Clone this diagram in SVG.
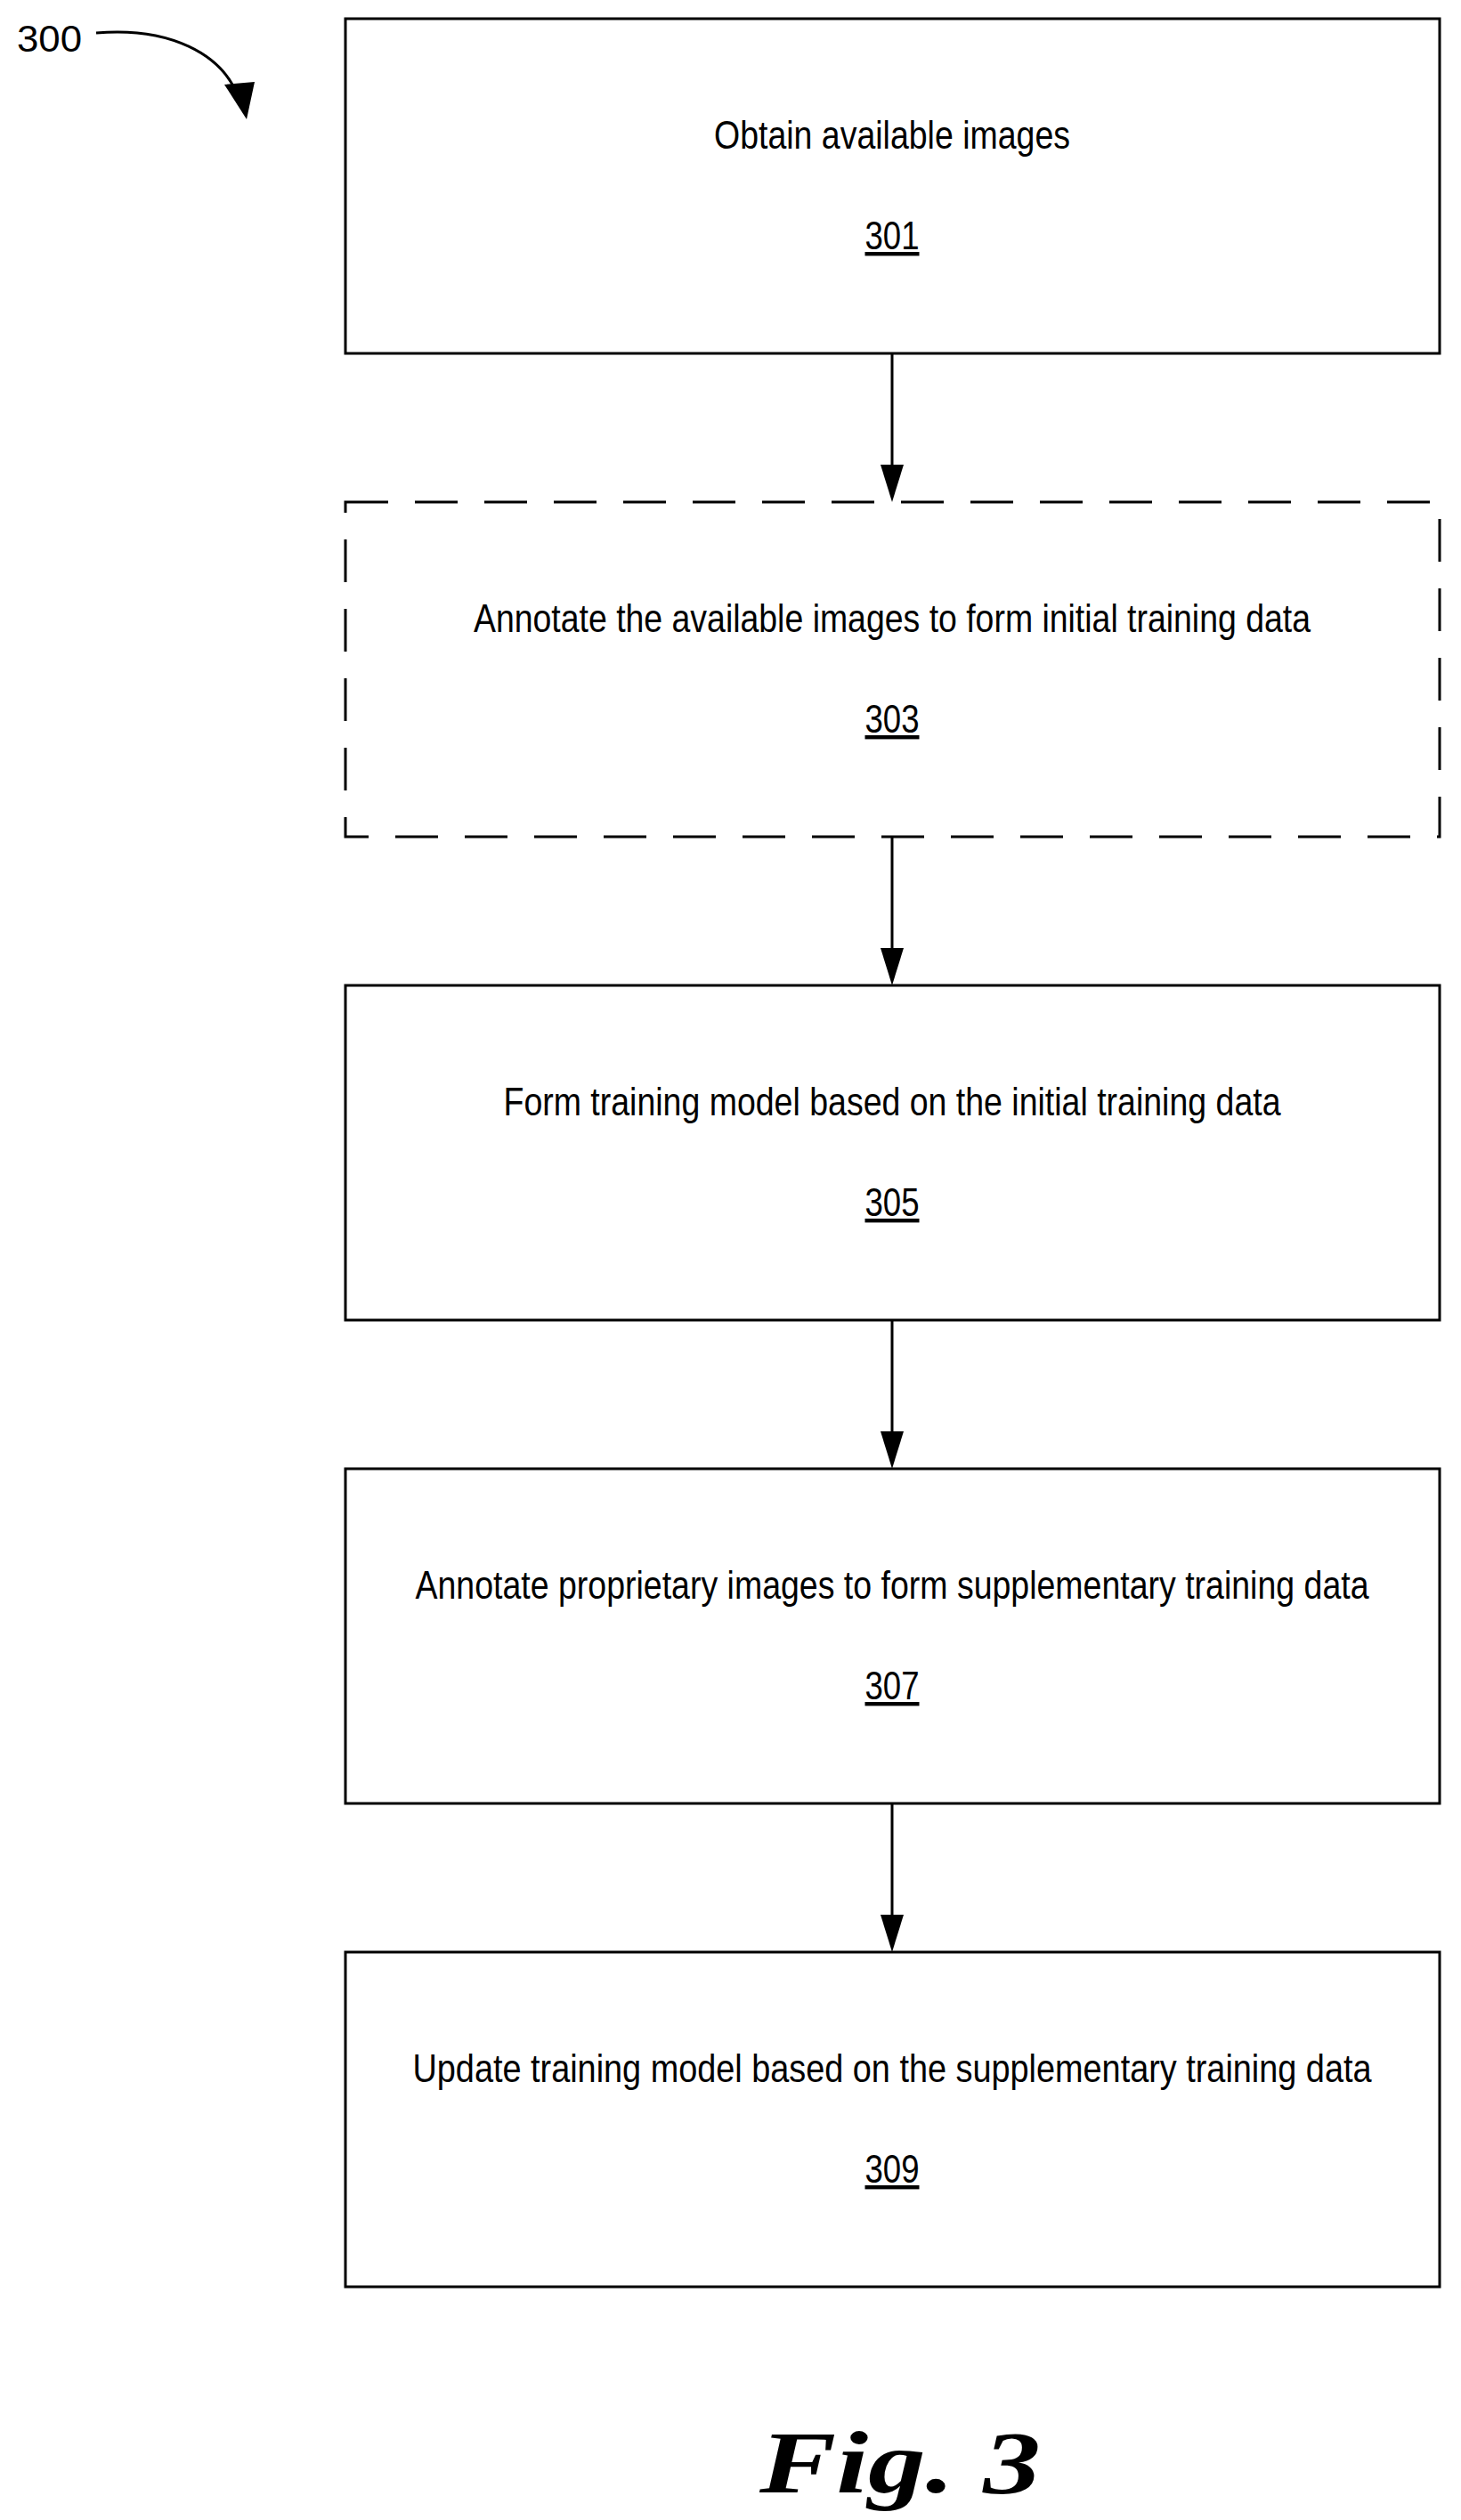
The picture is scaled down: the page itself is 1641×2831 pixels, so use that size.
<svg xmlns="http://www.w3.org/2000/svg" width="1641" height="2831" viewBox="0 0 1641 2831">
<style>
.box{fill:#fff;stroke:#000;stroke-width:3}
.dash{stroke-dasharray:48 30}
.t{font-family:"Liberation Sans",Arial,sans-serif;font-size:44px;text-anchor:middle;fill:#000}
.n{font-family:"Liberation Sans",Arial,sans-serif;font-size:44px;text-anchor:middle;fill:#000;text-decoration:underline}
.c{stroke:#000;stroke-width:3;fill:none}
</style>
<defs>
<marker id="ah" markerWidth="26" markerHeight="42" refX="13" refY="42" orient="auto" markerUnits="userSpaceOnUse" viewBox="0 0 26 42">
<path d="M0,0 L26,0 L13,42 Z" fill="#000" transform="rotate(0)"/>
</marker>
</defs>
<rect width="1641" height="2831" fill="#fff"/>
<g id="label300">
<text x="19" y="58" font-family="Liberation Sans,Arial,sans-serif" font-size="42" textLength="73" lengthAdjust="spacingAndGlyphs">300</text>
<path d="M108,37 C190,30 250,60 268,110" class="c"/>
<path d="M252,95 L286,92 L277,134 Z" fill="#000"/>
</g>
<g id="n301">
<rect class="box" x="388" y="21" width="1229" height="376"/>
<text class="t" x="1002" y="167" textLength="400" lengthAdjust="spacingAndGlyphs">Obtain available images</text>
<text class="n" x="1002" y="280" textLength="61" lengthAdjust="spacingAndGlyphs">301</text>
</g>
<g id="n303">
<rect class="box dash" x="388" y="564" width="1229" height="376"/>
<text class="t" x="1002" y="710" textLength="940" lengthAdjust="spacingAndGlyphs">Annotate the available images to form initial training data</text>
<text class="n" x="1002" y="823" textLength="61" lengthAdjust="spacingAndGlyphs">303</text>
</g>
<g id="n305">
<rect class="box" x="388" y="1107" width="1229" height="376"/>
<text class="t" x="1002" y="1253" textLength="873" lengthAdjust="spacingAndGlyphs">Form training model based on the initial training data</text>
<text class="n" x="1002" y="1366" textLength="61" lengthAdjust="spacingAndGlyphs">305</text>
</g>
<g id="n307">
<rect class="box" x="388" y="1650" width="1229" height="376"/>
<text class="t" x="1002" y="1796" textLength="1071" lengthAdjust="spacingAndGlyphs">Annotate proprietary images to form supplementary training data</text>
<text class="n" x="1002" y="1909" textLength="61" lengthAdjust="spacingAndGlyphs">307</text>
</g>
<g id="n309">
<rect class="box" x="388" y="2193" width="1229" height="376"/>
<text class="t" x="1002" y="2339" textLength="1077" lengthAdjust="spacingAndGlyphs">Update training model based on the supplementary training data</text>
<text class="n" x="1002" y="2452" textLength="61" lengthAdjust="spacingAndGlyphs">309</text>
</g>
<g id="connectors">
<line class="c" x1="1002" y1="397" x2="1002" y2="524"/>
<path d="M989,522 L1015,522 L1002,564 Z"/>
<line class="c" x1="1002" y1="940" x2="1002" y2="1067"/>
<path d="M989,1065 L1015,1065 L1002,1107 Z"/>
<line class="c" x1="1002" y1="1483" x2="1002" y2="1610"/>
<path d="M989,1608 L1015,1608 L1002,1650 Z"/>
<line class="c" x1="1002" y1="2026" x2="1002" y2="2153"/>
<path d="M989,2151 L1015,2151 L1002,2193 Z"/>
</g>
<text x="1011" y="2800" font-family="Liberation Serif,serif" font-size="100" font-weight="bold" font-style="italic" text-anchor="middle" textLength="316" lengthAdjust="spacingAndGlyphs">Fig. 3</text>
</svg>
